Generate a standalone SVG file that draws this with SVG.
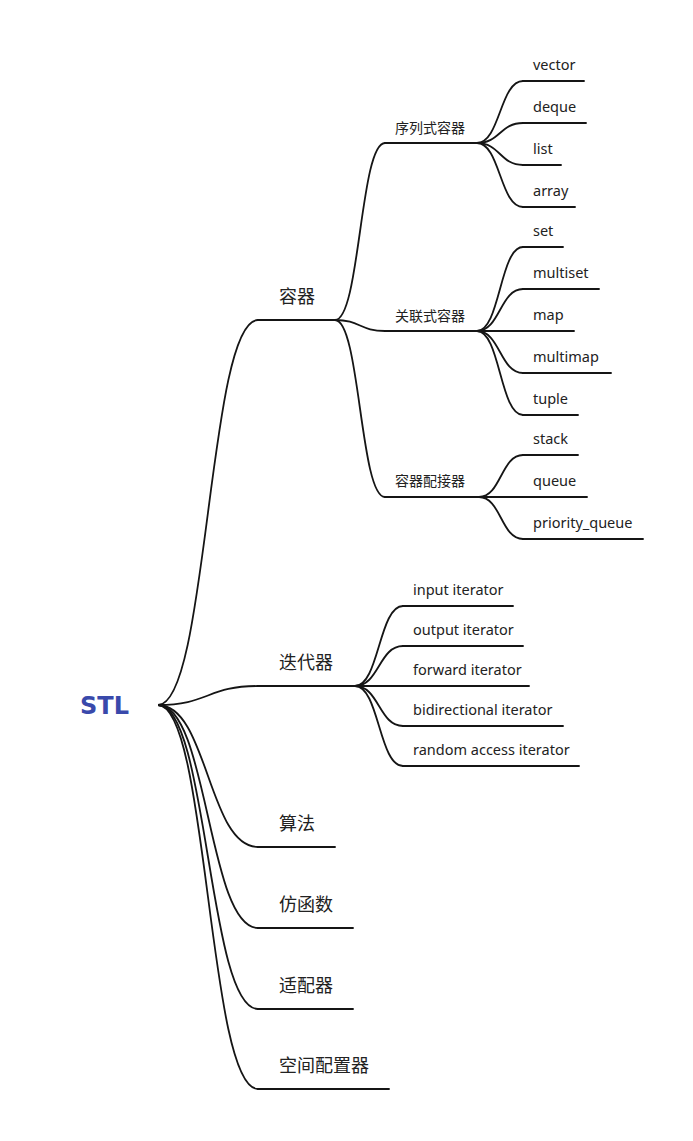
<svg xmlns="http://www.w3.org/2000/svg" width="693" height="1141" viewBox="0 0 693 1141">
<style>
.bg{fill:#ffffff}
.ln{stroke:#151515;stroke-width:1.9;fill:none;stroke-linecap:round}
.lk{stroke:#151515;stroke-width:1.8;fill:none}
.l1{font-family:"Noto Sans CJK SC","Noto Sans",sans-serif;font-size:18px;fill:#222}
.l2{font-family:"Noto Sans CJK SC","Noto Sans",sans-serif;font-size:14px;fill:#222}
.lf{font-family:"Noto Sans","Noto Sans CJK SC",sans-serif;font-size:14.5px;fill:#222}
.root{font-family:"DejaVu Sans",sans-serif;font-weight:bold;font-size:24px;fill:#3949ab}
</style>
<rect class="bg" x="0" y="0" width="693" height="1141"/>
<g id="connectors">
<path class="lk" d="M158,705 C208,705 208,320 258,320"/>
<path class="lk" d="M158,705 C208,705 208,686 258,686"/>
<path class="lk" d="M158,705 C208,705 208,847 258,847"/>
<path class="lk" d="M158,705 C208,705 208,928 258,928"/>
<path class="lk" d="M158,705 C208,705 208,1009 258,1009"/>
<path class="lk" d="M158,705 C208,705 208,1089 258,1089"/>
<path class="lk" d="M335,320 C360,320 360,143 385,143"/>
<path class="lk" d="M335,320 C360,320 360,331 385,331"/>
<path class="lk" d="M335,320 C360,320 360,497 385,497"/>
<path class="lk" d="M477,143 C500,143 500,81 523,81"/>
<path class="lk" d="M477,143 C500,143 500,123 523,123"/>
<path class="lk" d="M477,143 C500,143 500,165 523,165"/>
<path class="lk" d="M477,143 C500,143 500,207 523,207"/>
<path class="lk" d="M477,331 C500,331 500,247 523,247"/>
<path class="lk" d="M477,331 C500,331 500,289 523,289"/>
<path class="lk" d="M477,331 C500,331 500,331 523,331"/>
<path class="lk" d="M477,331 C500,331 500,373 523,373"/>
<path class="lk" d="M477,331 C500,331 500,415 523,415"/>
<path class="lk" d="M479,497 C501,497 501,455 523,455"/>
<path class="lk" d="M479,497 C501,497 501,497 523,497"/>
<path class="lk" d="M479,497 C501,497 501,539 523,539"/>
<path class="lk" d="M355,686 C379,686 379,606 403,606"/>
<path class="lk" d="M355,686 C379,686 379,646 403,646"/>
<path class="lk" d="M355,686 C379,686 379,686 403,686"/>
<path class="lk" d="M355,686 C379,686 379,726 403,726"/>
<path class="lk" d="M355,686 C379,686 379,766 403,766"/>
</g>
<g id="n-stl"><text class="root" x="80" y="714">STL</text></g>
<g id="n-rongqi"><line class="ln" x1="258" y1="320" x2="335" y2="320"/><text class="l1" x="279" y="303">容器</text></g>
<g id="n-diedaiqi"><line class="ln" x1="258" y1="686" x2="355" y2="686"/><text class="l1" x="279" y="669">迭代器</text></g>
<g id="n-suanfa"><line class="ln" x1="258" y1="847" x2="335" y2="847"/><text class="l1" x="279" y="830">算法</text></g>
<g id="n-fanghanshu"><line class="ln" x1="258" y1="928" x2="353" y2="928"/><text class="l1" x="279" y="911">仿函数</text></g>
<g id="n-shipeiqi"><line class="ln" x1="258" y1="1009" x2="353" y2="1009"/><text class="l1" x="279" y="992">适配器</text></g>
<g id="n-kongjian"><line class="ln" x1="258" y1="1089" x2="389" y2="1089"/><text class="l1" x="279" y="1072">空间配置器</text></g>
<g id="n-xulie"><line class="ln" x1="385" y1="143" x2="477" y2="143"/><text class="l2" x="395" y="133">序列式容器</text></g>
<g id="n-guanlian"><line class="ln" x1="385" y1="331" x2="477" y2="331"/><text class="l2" x="395" y="321">关联式容器</text></g>
<g id="n-peijie"><line class="ln" x1="385" y1="497" x2="479" y2="497"/><text class="l2" x="395" y="486">容器配接器</text></g>
<g id="n-vector"><line class="ln" x1="523" y1="81" x2="584" y2="81"/><text class="lf" x="533" y="70">vector</text></g>
<g id="n-deque"><line class="ln" x1="523" y1="123" x2="586" y2="123"/><text class="lf" x="533" y="112">deque</text></g>
<g id="n-list"><line class="ln" x1="523" y1="165" x2="561" y2="165"/><text class="lf" x="533" y="154">list</text></g>
<g id="n-array"><line class="ln" x1="523" y1="207" x2="575" y2="207"/><text class="lf" x="533" y="196">array</text></g>
<g id="n-set"><line class="ln" x1="523" y1="247" x2="563" y2="247"/><text class="lf" x="533" y="236">set</text></g>
<g id="n-multiset"><line class="ln" x1="523" y1="289" x2="599" y2="289"/><text class="lf" x="533" y="278">multiset</text></g>
<g id="n-map"><line class="ln" x1="523" y1="331" x2="574" y2="331"/><text class="lf" x="533" y="320">map</text></g>
<g id="n-multimap"><line class="ln" x1="523" y1="373" x2="611" y2="373"/><text class="lf" x="533" y="362">multimap</text></g>
<g id="n-tuple"><line class="ln" x1="523" y1="415" x2="578" y2="415"/><text class="lf" x="533" y="404">tuple</text></g>
<g id="n-stack"><line class="ln" x1="523" y1="455" x2="578" y2="455"/><text class="lf" x="533" y="444">stack</text></g>
<g id="n-queue"><line class="ln" x1="523" y1="497" x2="587" y2="497"/><text class="lf" x="533" y="486">queue</text></g>
<g id="n-pq"><line class="ln" x1="523" y1="539" x2="643" y2="539"/><text class="lf" x="533" y="528">priority_queue</text></g>
<g id="n-input"><line class="ln" x1="403" y1="606" x2="513" y2="606"/><text class="lf" x="413" y="595">input iterator</text></g>
<g id="n-output"><line class="ln" x1="403" y1="646" x2="523" y2="646"/><text class="lf" x="413" y="635">output iterator</text></g>
<g id="n-forward"><line class="ln" x1="403" y1="686" x2="529" y2="686"/><text class="lf" x="413" y="675">forward iterator</text></g>
<g id="n-bidir"><line class="ln" x1="403" y1="726" x2="563" y2="726"/><text class="lf" x="413" y="715">bidirectional iterator</text></g>
<g id="n-random"><line class="ln" x1="403" y1="766" x2="579" y2="766"/><text class="lf" x="413" y="755">random access iterator</text></g>
</svg>
